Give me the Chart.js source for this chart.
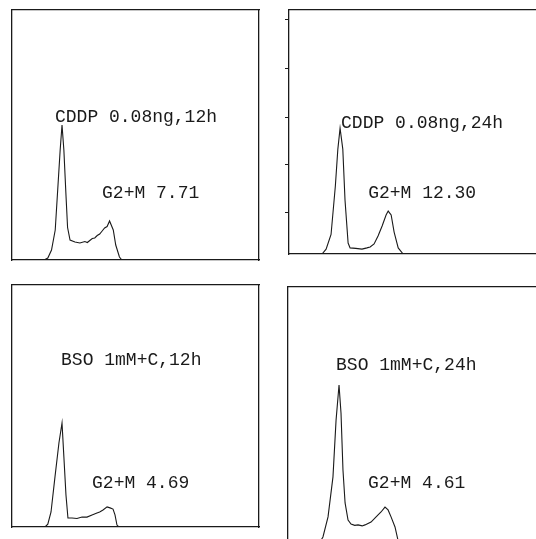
<!DOCTYPE html>
<html>
<head>
<meta charset="utf-8">
<script src="https://cdn.jsdelivr.net/npm/chart.js@4.4.1/dist/chart.umd.min.js"></script>
<style>
  html, body { margin: 0; width: 536px; height: 539px; overflow: hidden; background: #fff; }
  .panel { position: absolute; }
</style>
</head>
<body>
<div class="panel" id="w1"><canvas id="c1"></canvas></div>
<div class="panel" id="w2"><canvas id="c2"></canvas></div>
<div class="panel" id="w3"><canvas id="c3"></canvas></div>
<div class="panel" id="w4"><canvas id="c4"></canvas></div>
<script>
/*
DNA histograms, four treatment panels
*/

// channel (x) and relative cell count in % of panel height (y)
const p1Channel = [26, 29, 32, 35, 37, 39, 40.5, 42, 43.7, 45, 47, 51, 55, 59, 61, 63, 65, 67, 69, 71, 73, 75, 77, 79, 82, 84, 87, 89];
const p1Count   = [0, 0.8, 4, 12, 28, 44, 54, 44, 26, 13, 8, 7.2, 6.8, 7.4, 7, 7.8, 8.6, 8.8, 9.8, 10.4, 11.6, 12.8, 13.4, 15.6, 12, 6, 1.2, 0];

const p2Channel = [26.7, 30, 34, 37.5, 39.5, 41.3, 43.5, 45.3, 47.8, 49.4, 54, 59, 63, 65.6, 68.8, 72, 75.3, 78.5, 80.2, 82.6, 85, 88.3, 92.3];
const p2Count   = [0, 2, 8, 28, 43, 51.6, 43, 22, 4.5, 2.5, 2.3, 2, 2.5, 2.9, 4.1, 7.4, 11.5, 16, 17.6, 16, 9, 2.5, 0];

const p3Channel = [26.7, 29, 31.6, 34.8, 38, 40.5, 42, 43.7, 45.3, 48.6, 52.6, 56.7, 60.7, 64.8, 68.8, 71, 73.7, 77, 79.4, 81.8, 83.4, 85, 86.6];
const p3Count   = [0, 1.2, 6.2, 20.7, 34.7, 43, 29, 13.2, 3.7, 3.7, 3.5, 4.1, 4.1, 5, 5.8, 6.2, 7, 8.3, 7.9, 7.4, 5, 0.8, 0];

const p4Channel = [24.3, 28.3, 32.4, 36.4, 38.9, 41.3, 42.9, 44.5, 46.2, 48.6, 51, 54, 56.7, 60, 62.3, 67.2, 71.3, 75.3, 78.5, 81, 83.4, 86.6, 89, 90.7];
const p4Count   = [0, 3.1, 10.9, 26.4, 48.4, 62, 51.2, 29, 16.3, 9.7, 8.1, 7.6, 7.8, 7.4, 7.8, 8.9, 10.9, 12.8, 14.7, 13.6, 10.9, 7, 1.9, 0];

const panelTitles = ['CDDP 0.08ng,12h', 'CDDP 0.08ng,24h', 'BSO 1mM+C,12h', 'BSO 1mM+C,24h'];
const g2Labels    = ['G2+M 7.71', 'G2+M 12.30', 'G2+M 4.69', 'G2+M 4.61'];

// small marks on the left frame of the second panel
const p2TickMarks = [17, 36.5, 56, 76, 96];


// plot boxes on the page: left, top, right, bottom
const panelBox = [
  [12, 10, 259, 260],
  [289, 10, 545, 254],
  [12, 285, 259, 527],
  [288, 287, 545, 545]
];
const xMax = [200, 207, 200, 208];

// label anchors in data units: [titleX, titleY, g2X, g2Y]
const labelAt = [
  [34.8, 57.2, 72.9, 26.8],
  [42.1, 53.7, 64, 25],
  [39.7, 69, 64.8, 18.2],
  [38.9, 69.8, 64.8, 24]
];

const channels = [p1Channel, p2Channel, p3Channel, p4Channel];
const counts = [p1Count, p2Count, p3Count, p4Count];

const PAD = 6;
const INK = '#1a1a1a';


// zero-size axes so the frame sits on the chart area
function flatAxis(s) {
  if (s.isHorizontal()) s.height = 0;
  else s.width = 0;
}

function frameAxis(axis, position, extra) {
  return Object.assign({
    axis, position,
    ticks: { display: false },
    grid: { display: false },
    border: { display: true, color: INK, width: 1.3 },
    afterFit: flatAxis
  }, extra || {});
}

// text labels drawn through the chart scales
function labelPlugin(items) {
  return {
    id: 'panelLabels',
    afterDatasetsDraw(chart) {
      const { ctx, scales: { x, y } } = chart;
      ctx.save();
      ctx.font = '18px "Liberation Mono", "DejaVu Sans Mono", monospace';
      ctx.fillStyle = INK;
      ctx.textBaseline = 'middle';
      items.forEach(it => ctx.fillText(it.text, x.getPixelForValue(it.x), y.getPixelForValue(it.y)));
      ctx.restore();
    }
  };
}


panelBox.forEach((b, i) => {

  const wrap = document.getElementById('w' + (i + 1));
  wrap.style.left = (b[0] - PAD) + 'px';
  wrap.style.top = (b[1] - PAD) + 'px';
  wrap.style.width = (b[2] - b[0] + 2 * PAD) + 'px';
  wrap.style.height = (b[3] - b[1] + 2 * PAD) + 'px';

  const yExtra = { min: 0, max: 100 };
  if (i === 1) {
    yExtra.grid = { display: true, drawOnChartArea: false, drawTicks: true, tickLength: 4, color: INK, lineWidth: 1 };
    yExtra.afterBuildTicks = s => { s.ticks = p2TickMarks.map(v => ({ value: v })); };
  }

  const la = labelAt[i];

  new Chart(document.getElementById('c' + (i + 1)), {
    type: 'line',
    data: {
      datasets: [{
        data: channels[i].map((c, k) => ({ x: c, y: counts[i][k] })),
        borderColor: INK,
        borderWidth: 1.1,
        pointRadius: 0,
        tension: 0,
        fill: false
      }]
    },
    options: {
      responsive: true,
      maintainAspectRatio: false,
      animation: false,
      layout: { padding: PAD },
      plugins: { legend: { display: false }, tooltip: { enabled: false } },
      scales: {
        x: frameAxis('x', 'bottom', { type: 'linear', min: 0, max: xMax[i] }),
        y: frameAxis('y', 'left', yExtra),
        xTop: frameAxis('x', 'top', { type: 'linear', min: 0, max: 1 }),
        yRight: frameAxis('y', 'right', { min: 0, max: 1 })
      }
    },
    plugins: [labelPlugin([
      { text: panelTitles[i], x: la[0], y: la[1] },
      { text: g2Labels[i], x: la[2], y: la[3] }
    ])]
  });

});
</script>
</body>
</html>
